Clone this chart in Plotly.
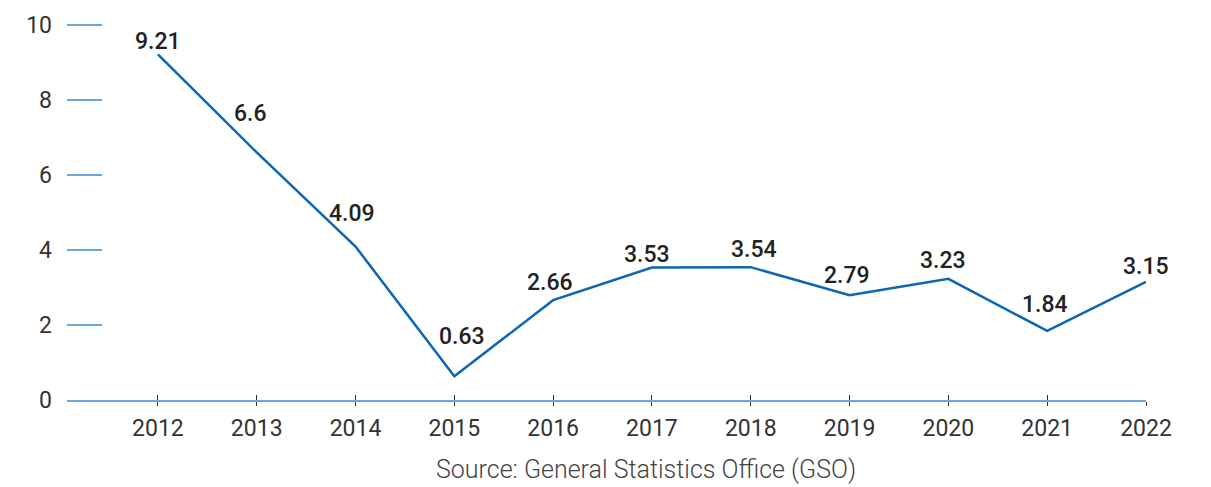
import plotly.graph_objects as go

years = [2012, 2013, 2014, 2015, 2016, 2017, 2018, 2019, 2020, 2021, 2022]
values = [9.21, 6.6, 4.09, 0.63, 2.66, 3.53, 3.54, 2.79, 3.23, 1.84, 3.15]
value_labels = ["9.21", "6.6", "4.09", "0.63", "2.66", "3.53", "3.54", "2.79", "3.23", "1.84", "3.15"]
y_ticks = [0, 2, 4, 6, 8, 10]
source_text = "Source: General Statistics Office (GSO)"

# label placement offsets (pixels) – styling only
label_dx = [0, -6, -4, 8, -3, -5, 3, -2.5, -5.5, -2.6, 0]
label_dy = [13, 38.5, 32.6, 39.5, 17.5, 13.5, 18, 20, 18.5, 26, 15]

LINE = "#0b66b3"
AXIS = "#6aa7d8"
FONT = "Roboto"

fig = go.Figure()
fig.add_trace(go.Scatter(
    x=years, y=values, mode="lines",
    line=dict(color=LINE, width=2.5),
    hoverinfo="skip", showlegend=False,
))
fig.add_trace(go.Scatter(
    x=years, y=values, mode="lines", xaxis="x2",
    line=dict(color="rgba(0,0,0,0)", width=0),
    hoverinfo="skip", showlegend=False,
))

for yr, v, t, dx, dy in zip(years, values, value_labels, label_dx, label_dy):
    fig.add_annotation(
        x=yr, y=v, xref="x", yref="y", text=t, showarrow=False,
        xanchor="center", yanchor="middle", xshift=dx, yshift=dy,
        font=dict(family=FONT, size=23, color="#222222", weight=500),
    )

fig.add_annotation(
    x=0.537, y=-0.183, xref="paper", yref="paper", text=source_text,
    showarrow=False, xanchor="center", yanchor="middle",
    font=dict(family=FONT, size=25, color="#444444", weight=300),
)

x_range = [2011.08, 2022]
fig.update_layout(
    width=1211, height=487,
    margin=dict(l=67, r=65, t=21, b=87),
    paper_bgcolor="white", plot_bgcolor="white",
    font=dict(family=FONT),
    xaxis=dict(
        type="linear", range=x_range, tickmode="array", tickvals=years,
        ticktext=[str(y) for y in years],
        showgrid=False, zeroline=False,
        showline=True, linecolor=AXIS, linewidth=1.5,
        ticks="outside", ticklen=4, tickwidth=1, tickcolor="#333333",
        tickfont=dict(family=FONT, size=23, color="#333333"),
        ticklabelstandoff=3,
    ),
    xaxis2=dict(
        type="linear", range=x_range, overlaying="x", anchor="y", side="bottom",
        tickmode="array", tickvals=years, showticklabels=False,
        showgrid=False, zeroline=False, showline=False,
        ticks="inside", ticklen=5, tickwidth=1, tickcolor="#333333",
    ),
    yaxis=dict(
        range=[0, 10.1], tickmode="array", tickvals=y_ticks,
        showgrid=False, zeroline=False, showline=False,
        ticks="inside", ticklen=35, tickwidth=1.5, tickcolor=AXIS,
        tickfont=dict(family=FONT, size=23, color="#333333"),
        ticklabelstandoff=14,
    ),
)

fig.write_html(
    "out.html",
    config={"displayModeBar": False, "staticPlot": True},
    post_script="document.body.style.margin='0';document.body.style.overflow='hidden';",
)
